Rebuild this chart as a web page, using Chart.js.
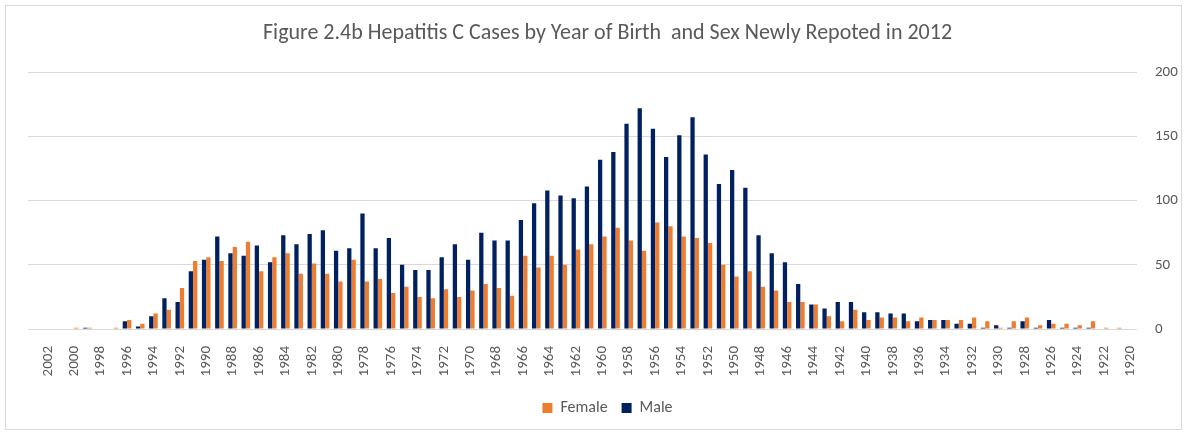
<!DOCTYPE html>
<html>
<head>
<meta charset="utf-8">
<script src="https://cdn.jsdelivr.net/npm/chart.js@4"></script>
<style>
  html, body { margin: 0; padding: 0; background: #fff; }
  #wrap { width: 1187px; height: 435px; }
</style>
</head>
<body>
<div id="wrap"><canvas id="hepChart"></canvas></div>
<script>
// year of birth, 2003 (empty) down to 1920
const years = [];
for (let y = 2003; y >= 1920; y--) years.push(String(y));

const female = [
  0, 0, 0, 1, 1, 0, 1, 7, 4, 12,        // 2003-1994
  15, 32, 53, 56, 53, 64, 68, 45, 56, 59, // 1993-1984
  43, 51, 43, 37, 54, 37, 39, 28, 33, 25, // 1983-1974
  24, 31, 25, 30, 35, 32, 26, 57, 48, 57, // 1973-1964
  50, 62, 66, 72, 79, 69, 61, 83, 80, 72, // 1963-1954
  71, 67, 50, 41, 45, 33, 30, 21, 21, 19, // 1953-1944
  10, 6, 15, 7, 9, 9, 6, 9, 7, 7,         // 1943-1934
  7, 9, 6, 1, 6, 9, 3, 4, 4, 3,           // 1933-1924
  6, 1, 1, 0                              // 1923-1920
];

const male = [
  0, 0, 0, 0, 1, 0, 0, 6, 2, 10,          // 2003-1994
  24, 21, 45, 54, 72, 59, 57, 65, 52, 73, // 1993-1984
  66, 74, 77, 61, 63, 90, 63, 71, 50, 46, // 1983-1974
  46, 56, 66, 54, 75, 69, 69, 85, 98, 108, // 1973-1964
  104, 102, 111, 132, 138, 160, 172, 156, 134, 151, // 1963-1954
  165, 136, 113, 124, 110, 73, 59, 52, 35, 19, // 1953-1944
  16, 21, 21, 13, 13, 12, 12, 6, 7, 7,    // 1943-1934
  4, 4, 1, 3, 1, 6, 1, 7, 1, 1,           // 1933-1924
  1, 0, 0, 0                              // 1923-1920
];

const yTicks = [0, 50, 100, 150, 200];

const txt = '#595959';
const fontFam = 'Carlito, Calibri, Lato, sans-serif';

// white background + light frame round the chart
const framePlugin = {
  id: 'frame',
  beforeDraw(chart) {
    const c = chart.ctx;
    c.save();
    c.fillStyle = '#fff';
    c.fillRect(0, 0, chart.width, chart.height);
    c.strokeStyle = '#d9d9d9';
    c.lineWidth = 1;
    c.strokeRect(5.5, 5.5, 1176, 424);
    c.restore();
  }
};

new Chart(document.getElementById('hepChart'), {
  type: 'bar',
  data: {
    labels: years,
    datasets: [
      { label: 'Male', data: male, backgroundColor: '#002060', categoryPercentage: 0.66, barPercentage: 0.98 },
      { label: 'Female', data: female, backgroundColor: '#ED7D31', categoryPercentage: 0.66, barPercentage: 0.98 }
    ]
  },
  options: {
    responsive: true,
    maintainAspectRatio: false,
    animation: false,
    layout: { padding: { left: 28, right: 0, top: 10, bottom: 9 } },
    plugins: {
      title: {
        display: true,
        text: 'Figure 2.4b Hepatitis C Cases by Year of Birth  and Sex Newly Repoted in 2012',
        color: txt,
        font: { family: fontFam, size: 22, weight: 'normal' },
        padding: { top: 10, bottom: 26 }
      },
      legend: {
        position: 'bottom',
        reverse: true,
        labels: { color: txt, font: { family: fontFam, size: 16 }, boxWidth: 10, boxHeight: 10, padding: 14 }
      },
      tooltip: { enabled: false }
    },
    scales: {
      x: {
        grid: { display: false },
        border: { display: false },
        ticks: {
          color: txt,
          font: { family: fontFam, size: 15 },
          autoSkip: false,
          minRotation: 90,
          maxRotation: 90,
          padding: 9,
          callback: function (value) {
            const lab = this.getLabelForValue(value);
            return Number(lab) % 2 === 0 ? lab : '';
          }
        },
        afterFit: s => { s.height = 57; }
      },
      y: {
        position: 'right',
        min: 0,
        max: 200,
        afterBuildTicks: s => { s.ticks = yTicks.map(v => ({ value: v })); },
        grid: { color: '#d9d9d9', lineWidth: 1, drawTicks: false },
        border: { display: false },
        ticks: { color: txt, font: { family: fontFam, size: 15 }, padding: 18 },
        afterFit: s => { s.width = 50; }
      }
    }
  },
  plugins: [framePlugin]
});
</script>
</body>
</html>
